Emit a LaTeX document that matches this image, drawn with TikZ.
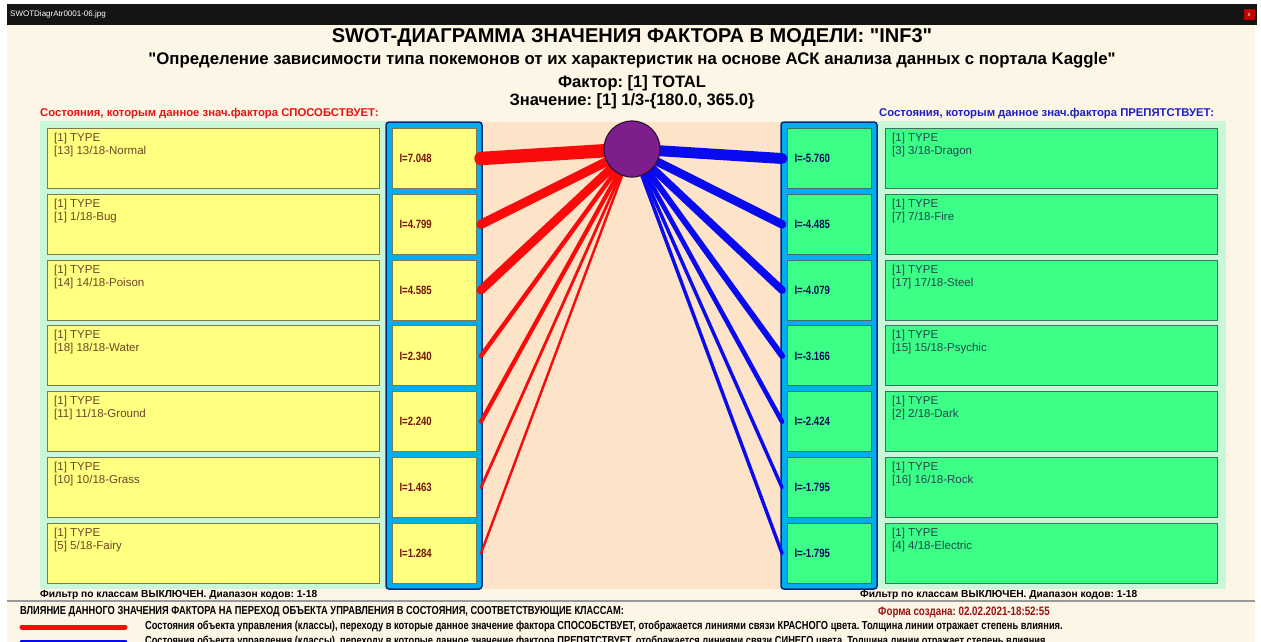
\documentclass[tikz,border=0pt]{standalone}
\usepackage{fontspec}
\setmainfont{Liberation Sans}
\newfontfamily\narrowfont{Liberation Sans}[FakeStretch=0.8]
\usetikzlibrary{positioning}

\definecolor{cream}{RGB}{253,245,230}
\definecolor{peach}{RGB}{253,228,200}
\definecolor{palegreen}{RGB}{200,248,215}
\definecolor{boxyellow}{RGB}{255,255,128}
\definecolor{boxgreen}{RGB}{60,255,135}
\definecolor{yellowEdge}{RGB}{125,120,80}
\definecolor{greenEdge}{RGB}{60,115,100}
\definecolor{navyline}{RGB}{10,40,120}
\definecolor{brownText}{RGB}{110,70,40}
\definecolor{tealText}{RGB}{40,70,80}
\definecolor{valRed}{RGB}{120,20,10}
\definecolor{valBlue}{RGB}{10,10,90}
\definecolor{factorPurple}{RGB}{125,30,140}
\definecolor{lineRed}{RGB}{250,10,10}
\definecolor{lineBlue}{RGB}{10,10,240}
\definecolor{labelRed}{RGB}{230,20,20}
\definecolor{labelBlue}{RGB}{30,30,200}
\definecolor{formRed}{RGB}{150,20,20}

\begin{document}
\frenchspacing
\begin{tikzpicture}[x=1pt, y=-1pt,
	statebox/.style={line width=1pt, minimum width=332pt, minimum height=60pt, anchor=north west, inner sep=0pt},
	valbox/.style={line width=1pt, minimum width=84pt, minimum height=60pt, text width=70pt, align=left, anchor=north west, inner sep=0pt, font=\narrowfont\fontsize{12}{13}\selectfont\bfseries},
	statetext/.style={anchor=north west, align=left, inner sep=0pt, font=\fontsize{11.5}{13}\selectfont},
	link/.style={line cap=round},
	headline/.style={inner sep=0pt, font=\bfseries}]
	\useasboundingbox (0,0) rectangle (1261,642);
	\clip (0,0) rectangle (1261,642);
	\fill[white] (0,0) rectangle (1261,642);
	\fill[black!92] (7,4) rectangle (1257,25);
	\fill[cream] (7,25) rectangle (1255,642);
	\node[anchor=west, inner sep=0pt, text=white, font=\fontsize{8}{9}\selectfont] (fname) at (10,14.5) {SWOTDiagrAtr0001-06.jpg};
	\node[fill=red!75!black, minimum size=11pt, inner sep=0pt, text=white, font=\fontsize{6}{6}\selectfont] (closebtn) at (1249,15) {x};

	\node[headline, font=\bfseries\fontsize{20}{22}\selectfont] (title) at (632,38) {SWOT-ДИАГРАММА ЗНАЧЕНИЯ ФАКТОРА В МОДЕЛИ: \textquotedbl INF3\textquotedbl};
	\node[headline, font=\bfseries\fontsize{16.8}{19}\selectfont] (subtitle) at (632,60) {\textquotedbl Определение зависимости типа покемонов от их характеристик на основе АСК анализа данных с портала Kaggle\textquotedbl};
	\node[headline, font=\bfseries\fontsize{16.5}{18}\selectfont] (factor) at (632,83) {Фактор: [1] TOTAL};
	\node[headline, font=\bfseries\fontsize{16.5}{18}\selectfont] (value) at (632,101) {Значение: [1] 1/3-\{180.0, 365.0\}};
	\node[headline, anchor=west, text=labelRed, font=\bfseries\fontsize{11.3}{13}\selectfont] (helpTitle) at (40,114) {Состояния, которым данное знач.фактора СПОСОБСТВУЕТ:};
	\node[headline, anchor=west, text=labelBlue, font=\bfseries\fontsize{11.3}{13}\selectfont] (hinderTitle) at (879,114) {Состояния, которым данное знач.фактора ПРЕПЯТСТВУЕТ:};

	\fill[palegreen] (40,121) rectangle (386,589);
	\fill[palegreen] (877,121) rectangle (1226,589);
	\fill[peach] (483,122) rectangle (781,589);
	\draw[navyline, fill=cyan, line width=1.5pt, rounded corners=3pt] (386,122) rectangle (482,589);
	\draw[navyline, fill=cyan, line width=1.5pt, rounded corners=3pt] (781,122) rectangle (877,589);

	\coordinate (fc) at (632,149);

	\foreach \i/\k/\nm/\v in {0/13/Normal/7.048, 1/1/Bug/4.799, 2/14/Poison/4.585, 3/18/Water/2.340, 4/11/Ground/2.240, 5/10/Grass/1.463, 6/5/Fairy/1.284}{
		\pgfmathsetmacro\t{128+65.8*\i}
		\pgfmathsetmacro\w{1.9*\v}
		\node[statebox, draw=yellowEdge, fill=boxyellow] (sb\i) at (47,\t) {};
		\node[statetext, text=brownText, below right=5pt and 7pt of sb\i.north west] (st\i) {[1] TYPE\\{[\k] \k/18-\nm}};
		\node[valbox, draw=yellowEdge, fill=boxyellow, text=valRed] (sv\i) at (392,\t) {I=\v};
		\draw[link, lineRed, line width=\w pt] (fc) -- ([xshift=4pt]sv\i.east);
	}

	\foreach \i/\k/\nm/\v in {0/3/Dragon/5.760, 1/7/Fire/4.485, 2/17/Steel/4.079, 3/15/Psychic/3.166, 4/2/Dark/2.424, 5/16/Rock/1.795, 6/4/Electric/1.795}{
		\pgfmathsetmacro\t{128+65.8*\i}
		\pgfmathsetmacro\w{1.9*\v}
		\node[statebox, draw=greenEdge, fill=boxgreen] (pb\i) at (885,\t) {};
		\node[statetext, text=tealText, below right=5pt and 7pt of pb\i.north west] (pt\i) {[1] TYPE\\{[\k] \k/18-\nm}};
		\node[valbox, draw=greenEdge, fill=boxgreen, text=valBlue] (pv\i) at (787,\t) {I=-\v};
		\draw[link, lineBlue, line width=\w pt] (fc) -- ([xshift=-5pt]pv\i.west);
	}

	\node[circle, fill=factorPurple, draw={rgb,255:red,50;green,15;blue,60}, line width=1.2pt, minimum size=56pt, inner sep=0pt] (fac) at (fc) {};

	\node[headline, anchor=west, font=\bfseries\fontsize{10.2}{12}\selectfont] (filterL) at (40,595) {Фильтр по классам ВЫКЛЮЧЕН. Диапазон кодов: 1-18};
	\node[headline, anchor=west, font=\bfseries\fontsize{10.2}{12}\selectfont] (filterR) at (860,595) {Фильтр по классам ВЫКЛЮЧЕН. Диапазон кодов: 1-18};
	\draw[black!40, line width=2pt] (7,601) -- (1255,601);

	\node[headline, anchor=west, font=\narrowfont\fontsize{11.6}{13}\selectfont\bfseries] (legendHead) at (20,612) {ВЛИЯНИЕ ДАННОГО ЗНАЧЕНИЯ ФАКТОРА НА ПЕРЕХОД ОБЪЕКТА УПРАВЛЕНИЯ В СОСТОЯНИЯ, СООТВЕТСТВУЮЩИЕ КЛАССАМ:};
	\node[headline, anchor=west, text=formRed, font=\narrowfont\fontsize{12.2}{13}\selectfont\bfseries] (formDate) at (878,612) {Форма создана: 02.02.2021-18:52:55};
	\draw[link, lineRed, line width=5pt] (22,627) -- (125,627);
	\node[headline, anchor=west, font=\narrowfont\fontsize{11.6}{13}\selectfont\bfseries] (legendRed) at (145,626) {Состояния объекта управления (классы), переходу в которые данное значение фактора СПОСОБСТВУЕТ, отображается линиями связи КРАСНОГО цвета. Толщина линии отражает степень влияния.};
	\draw[link, lineBlue, line width=5pt] (22,642) -- (125,642);
	\node[headline, anchor=west, font=\narrowfont\fontsize{11.6}{13}\selectfont\bfseries] (legendBlue) at (145,641) {Состояния объекта управления (классы), переходу в которые данное значение фактора ПРЕПЯТСТВУЕТ, отображается линиями связи СИНЕГО цвета. Толщина линии отражает степень влияния.};
\end{tikzpicture}
\end{document}
